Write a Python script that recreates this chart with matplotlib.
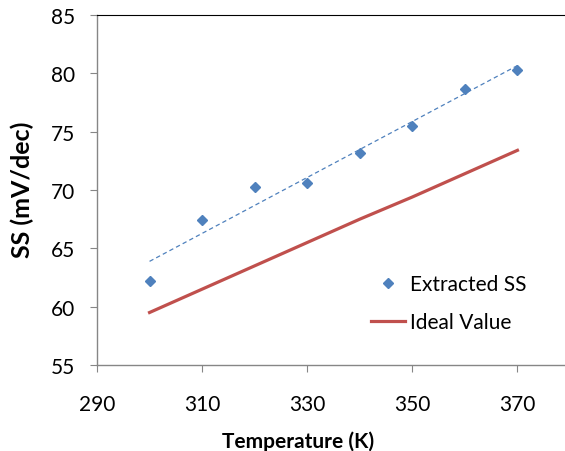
import numpy as np
import matplotlib
matplotlib.use("Agg")
import matplotlib.pyplot as plt

temps = [300, 310, 320, 330, 340, 350, 360, 370]
extracted_ss = [62.2, 67.4, 70.3, 70.6, 73.2, 75.5, 78.7, 80.3]
ideal_ss = [59.5, 61.5, 63.5, 65.5, 67.5, 69.4, 71.4, 73.4]
x_ticks = [290, 310, 330, 350, 370]
y_ticks = [55, 60, 65, 70, 75, 80, 85]

plt.rcParams['font.family'] = ['Lato', 'DejaVu Sans']

fig = plt.figure(figsize=(5.65, 4.52), dpi=100)
ax = fig.add_axes([97/565, (452-366)/452, (570-97)/565, (366-16)/452])

blue = '#4F81BD'
red = '#C0504D'

# trendline (linear fit)
coef = np.polyfit(temps, extracted_ss, 1)
tx = np.array([temps[0], temps[-1]])
ax.plot(tx, np.polyval(coef, tx), ls=(0, (3.5, 2.5)), color=blue, lw=0.9, zorder=2)

h1, = ax.plot(temps, extracted_ss, ls='none', marker='D', ms=5.5, color=blue,
              label='Extracted SS', zorder=3)
h2, = ax.plot(temps, ideal_ss, color=red, lw=2.3, label='Ideal Value', zorder=2)

ax.set_xlim(290, 380)
ax.set_ylim(55, 85)
ax.set_xticks(x_ticks)
ax.set_yticks(y_ticks)
ax.tick_params(axis='x', direction='out', length=5, width=0.8, color='#868686',
               pad=16, labelsize=15)
ax.tick_params(axis='y', direction='out', length=5, width=0.8, color='#868686',
               pad=11, labelsize=15)
for s in ['left', 'bottom']:
    ax.spines[s].set_color('#868686')
    ax.spines[s].set_linewidth(1.0)
ax.spines['top'].set_color('#000000')
ax.spines['top'].set_linewidth(0.8)
ax.spines['right'].set_visible(False)

fig.text(298/565, 10.5/452, 'Temperature (K)', ha='center', va='center',
         fontsize=15, fontweight='bold')
fig.text(22/565, (452-190)/452, 'SS (mV/dec)', ha='center', va='center',
         rotation=90, fontsize=18, fontweight='bold')

leg = fig.legend(handles=[h1, h2], loc='upper left',
                 bbox_to_anchor=(361/565, (452-265)/452), frameon=False,
                 fontsize=15, handlelength=1.6, handletextpad=0.25,
                 labelspacing=0.85, borderpad=0)

fig.savefig('out.png', dpi=100)
